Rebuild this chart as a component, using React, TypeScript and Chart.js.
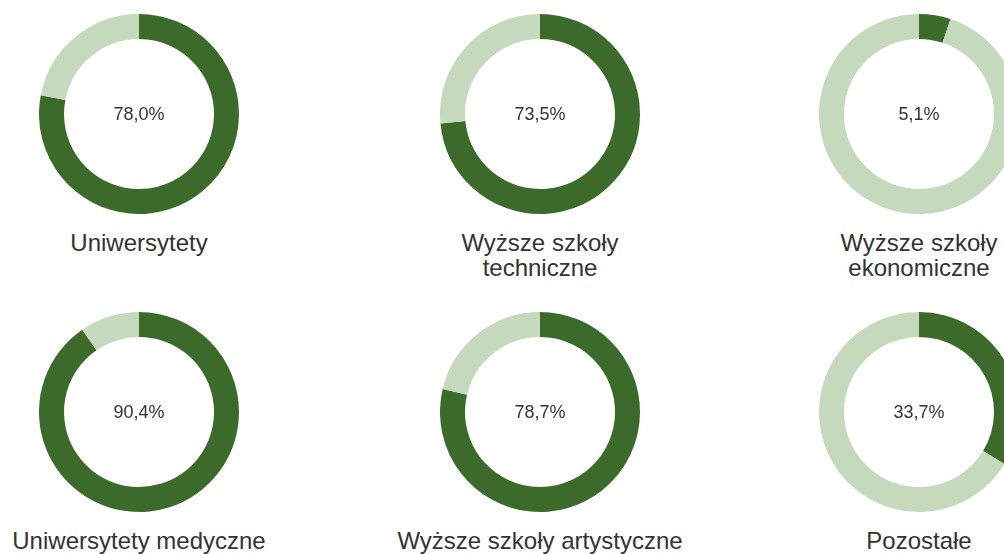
import React, { useEffect, useRef } from "react";
import { Chart, registerables } from "chart.js";

Chart.register(...registerables);

const categories = [
  "Uniwersytety",
  "Wyższe szkoły\ntechniczne",
  "Wyższe szkoły\nekonomiczne",
  "Uniwersytety medyczne",
  "Wyższe szkoły artystyczne",
  "Pozostałe",
];
const shareValues = [78.0, 73.5, 5.1, 90.4, 78.7, 33.7];
const centerLabels = ["78,0%", "73,5%", "5,1%", "90,4%", "78,7%", "33,7%"];

const DARK = "#3b6a2b";
const LIGHT = "#c5d9bc";

// layout (centres of each donut)
const centersX = [139, 540, 919];
const centersY = [114, 412];
const R = 100;

function Donut({ value, cx, cy, center, label }: { value: number; cx: number; cy: number; center: string; label: string }) {
  const ref = useRef<HTMLCanvasElement | null>(null);
  useEffect(() => {
    if (!ref.current) return;
    const chart = new Chart(ref.current, {
      type: "doughnut",
      data: {
        labels: ["value", "rest"],
        datasets: [
          {
            data: [value, 100 - value],
            backgroundColor: [DARK, LIGHT],
            borderWidth: 0,
          },
        ],
      },
      options: {
        responsive: false,
        animation: false,
        cutout: "75%",
        layout: { padding: 0 },
        plugins: { legend: { display: false }, tooltip: { enabled: false } },
      },
    });
    return () => chart.destroy();
  }, [value]);
  const lines = label.split("\n");
  return (
    <>
      <canvas
        ref={ref}
        width={2 * R}
        height={2 * R}
        style={{ position: "absolute", left: cx - R, top: cy - R, width: 2 * R, height: 2 * R }}
      />
      <div
        style={{
          position: "absolute",
          left: cx - 100,
          top: cy - 12,
          width: 200,
          textAlign: "center",
          fontFamily: "'Liberation Sans', Arial, sans-serif",
          fontSize: 18,
          color: "#333",
          lineHeight: "24px",
        }}
      >
        {center}
      </div>
      <div
        style={{
          position: "absolute",
          left: cx - 200,
          top: cy + 116,
          width: 400,
          textAlign: "center",
          fontFamily: "'Liberation Sans', Arial, sans-serif",
          fontSize: 24,
          color: "#333",
          lineHeight: "25px",
        }}
      >
        {lines.map((l, i) => (
          <div key={i}>{l}</div>
        ))}
      </div>
    </>
  );
}

export default function App() {
  return (
    <div
      style={{
        position: "fixed",
        left: 0,
        top: 0,
        width: 1004,
        height: 554,
        overflow: "hidden",
        background: "#fff",
      }}
    >
      {categories.map((c, i) => (
        <Donut
          key={i}
          value={shareValues[i]}
          cx={centersX[i % 3]}
          cy={centersY[Math.floor(i / 3)]}
          center={centerLabels[i]}
          label={c}
        />
      ))}
    </div>
  );
}
